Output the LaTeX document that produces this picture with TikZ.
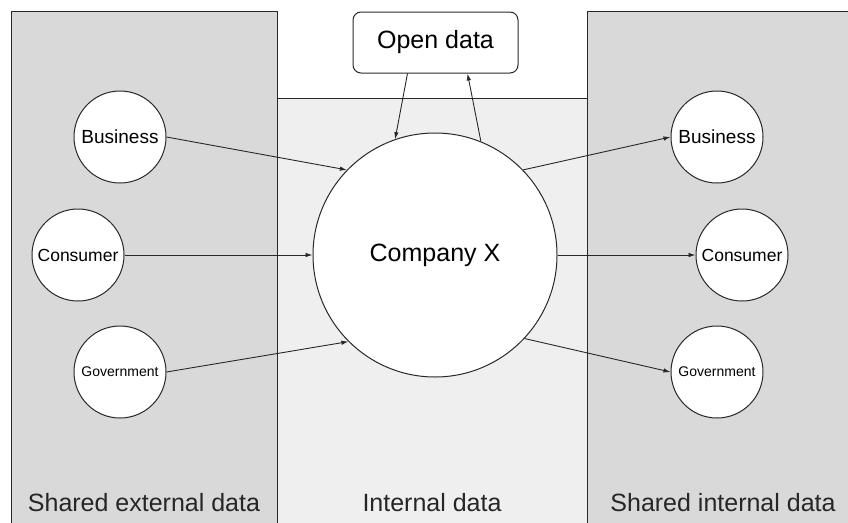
\documentclass[tikz,border=0pt]{standalone}
\usepackage{fontspec}
\setmainfont{Liberation Sans}
\usepackage{tikz}
\usetikzlibrary{positioning, arrows.meta}

\definecolor{sharedgray}{RGB}{217,217,217}
\definecolor{internalgray}{RGB}{239,239,239}
\definecolor{linegray}{RGB}{40,40,40}

\begin{document}
\begin{tikzpicture}[x=1pt, y=-1pt, line width=1pt, draw=linegray,
    party/.style={circle, draw=linegray, fill=white, minimum size=92pt, inner sep=0pt},
    flow/.style={-{Latex[length=7pt,width=4.5pt]}, line width=0.9pt, draw=linegray},
    zone/.style={font=\fontsize{25}{30}\selectfont, text=black!85}]
    \path[use as bounding box, clip] (0,0) rectangle (848,522);
    \fill[white] (0,0) rectangle (848,522);

    % Draw the three zones
    \filldraw[fill=internalgray] (277,98) rectangle (587,540);
    \filldraw[fill=sharedgray] (11,11) rectangle (277,540);
    \filldraw[fill=sharedgray] (587,11) rectangle (870,540);

    % Central company and open data
    \node[circle, draw=linegray, fill=white, minimum size=244pt, inner sep=0pt,
          font=\fontsize{25}{30}\selectfont] (company) at (435,255) {Company X};
    \node[draw=linegray, fill=white, rounded corners=8pt, minimum width=165pt, minimum height=61pt,
          font=\fontsize{25}{30}\selectfont] (open) at (435.5,42.5) {Open data};

    % Parties on both sides
    \foreach \side/\x/\cx in {L/120/78, R/717/742} {
      \node[party, font=\fontsize{19}{22}\selectfont] (biz\side) at (\x,137) {Business};
      \node[party, font=\fontsize{17.5}{20}\selectfont] (con\side) at (\cx,255) {Consumer};
      \node[party, font=\fontsize{14}{17}\selectfont] (gov\side) at (\x,372) {Government};
    }

    % Data flows
    \draw[flow] (bizL.east) -- (company.136);
    \draw[flow] (conL.east) -- (company.west);
    \draw[flow] (govL.east) -- (company.225);
    \draw[flow] (company.44) -- (bizR.west);
    \draw[flow] (company.east) -- (conR.west);
    \draw[flow] (company.317) -- (govR.west);
    \draw[flow] ([xshift=-28pt]open.south) -- (company.109.5);
    \draw[flow] (company.68) -- ([xshift=32pt]open.south);

    % Zone labels
    \node[zone] (external) at (144,503) {Shared external data};
    \node[zone] (internal) at (432,503) {Internal data};
    \node[zone] (sharedint) at (723,503) {Shared internal data};
\end{tikzpicture}
\end{document}
